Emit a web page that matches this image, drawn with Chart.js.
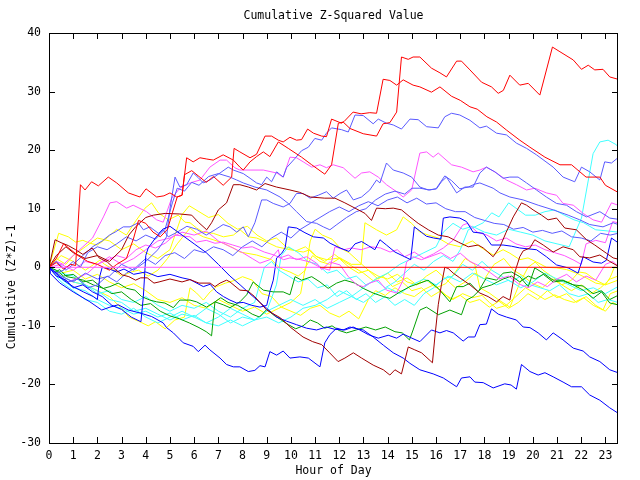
<!DOCTYPE html>
<html>
<head>
<meta charset="utf-8">
<script src="https://cdn.jsdelivr.net/npm/chart.js@4.4.1/dist/chart.umd.min.js"></script>
<style>
html, body { margin: 0; padding: 0; background: #fff; }
canvas { display: block; }
</style>
</head>
<body>
<canvas id="chart" width="640" height="480"></canvas>
<script>
// tick labels
const hourTicks = [0,1,2,3,4,5,6,7,8,9,10,11,12,13,14,15,16,17,18,19,20,21,22,23];
const valueTicks = [-30,-20,-10,0,10,20,30,40];

// series: [hour, cumulative value]
const zeroMagenta = [[0,0],[11.2,0]];
const zeroRed = [[11.2,0],[23.52,0]];

const red1 = [[0,0],[0.3,0.8],[0.6,-0.3],[0.9,0.5],[1.1,0.3],[1.3,14.1],[1.49,13.2],[1.76,14.6],[2.04,13.9],[2.45,15.4],[2.8,14.4],[3.28,12.7],[3.76,12.0],[4.01,13.4],[4.45,12.0],[4.75,12.2],[5.0,12.7],[5.28,12.0],[5.5,12.3],[5.69,18.7],[5.96,18.0],[6.24,18.7],[6.5,18.5],[6.79,18.3],[7.2,19.2],[7.62,18.3],[7.89,17.1],[8.03,16.6],[8.31,18.0],[8.58,18.9],[8.86,19.7],[9.13,18.9],[9.48,21.4],[9.89,20.3],[10.44,18.8],[10.86,17.5],[11.4,15.9],[11.68,17.5],[11.96,24.6],[12.16,24.8],[12.44,23.7],[12.99,22.8],[13.54,22.4],[13.81,24.5],[14.09,24.7],[14.37,26.5],[14.57,35.9],[14.85,35.5],[15.05,35.9],[15.33,35.9],[15.81,34.0],[16.16,33.2],[16.43,32.5],[16.85,35.2],[17.05,35.2],[17.4,33.7],[17.88,31.6],[18.29,30.8],[18.57,29.7],[18.78,30.2],[19.05,32.8],[19.46,31.1],[19.81,31.4],[20.29,29.4],[20.81,37.6],[21.12,36.8],[21.67,35.4],[22.01,33.8],[22.29,34.5],[22.56,33.7],[22.9,33.8],[23.18,32.5],[23.52,32.1]];
const red2 = [[0,0],[0.3,1.5],[0.6,4],[0.9,3],[1.2,2],[1.6,1],[2,0.5],[2.5,-0.5],[2.8,0.5],[3.2,1.5],[3.5,5],[3.7,8],[4.0,7.5],[4.3,6],[4.6,5.2],[4.9,6.5],[5.1,9.3],[5.3,12],[5.5,12.3],[5.6,15.8],[5.9,16.5],[6.2,15.5],[6.5,14.5],[6.8,15.5],[7.2,14],[7.55,15.4],[7.65,20.3],[7.89,19.7],[8.31,18.7],[8.58,19.3],[8.93,22.4],[9.2,22.4],[9.48,21.7],[9.68,21.4],[9.96,22.2],[10.23,21.7],[10.44,21.8],[10.69,23.6],[10.93,22.9],[11.27,22.4],[11.47,22.3],[11.68,25.3],[12.09,24.6],[12.2,24.9],[12.57,26.5],[12.9,26.2],[13.26,26.4],[13.54,26.3],[13.81,32.1],[14.09,31.9],[14.37,31.1],[14.64,32.0],[15.05,31.1],[15.33,30.8],[15.81,29.9],[16.16,30.8],[16.64,29.2],[17.0,28.5],[17.4,27.4],[17.7,27.0],[18.1,25.7],[18.5,24.8],[18.92,23.4],[19.46,21.7],[19.88,20.5],[20.5,18.8],[21.12,17.5],[21.6,17.5],[22.2,15.4],[22.77,15.4],[23.0,14.0],[23.52,12.8]];
const darkRed1 = [[0,0],[0.25,4.7],[0.5,4.2],[0.8,3.7],[1.1,3.0],[1.4,2.2],[1.79,3.3],[2.07,1.6],[2.41,0.9],[2.75,-0.4],[3.03,-1.3],[3.3,-1.6],[3.58,-2.2],[3.79,-1.8],[4.06,-1.8],[4.34,-2.7],[4.55,-2.5],[5.0,-2.0],[5.5,-2.5],[5.83,-2.1],[6.2,-2.7],[6.66,-2.7],[6.86,-3.3],[7.07,-2.7],[7.34,-2.2],[7.48,-2.5],[7.89,-3.9],[8.2,-4.0],[8.5,-5.0],[9.0,-7.3],[9.55,-8.6],[10.0,-10.3],[10.5,-11.9],[10.9,-12.7],[11.27,-13.2],[11.6,-14.6],[11.95,-16.1],[12.23,-15.5],[12.58,-14.6],[12.92,-15.5],[13.4,-16.7],[13.82,-17.5],[14.09,-18.4],[14.3,-17.5],[14.57,-18.2],[14.85,-13.6],[15.12,-14.1],[15.4,-14.6],[15.85,-16.3],[15.95,-11.9],[16.09,-6.4],[16.22,-3.0],[16.36,0],[16.5,-0.2],[16.71,-1.0],[16.98,-1.8],[17.4,-3.0],[17.81,-4.4],[18.15,-5.0],[18.5,-5.9],[18.77,-5.0],[19.05,-5.6],[19.26,-0.8],[19.46,1.8],[19.6,2.8],[19.88,3.3],[20.08,4.7],[20.43,3.8],[20.84,2.6],[21.25,3.5],[21.67,3.0],[21.94,1.8],[22.35,1.6],[22.77,2.1],[23.18,1.0],[23.52,0.2]];
const darkRed2 = [[0,0],[0.3,2],[0.7,3.5],[1,2.5],[1.5,1.5],[2,2],[2.5,1],[3,3],[3.3,5.5],[3.6,7],[4,8.5],[4.31,8.9],[4.8,9.2],[5.41,9.1],[5.9,8.9],[6.17,7.7],[6.52,6.4],[6.72,7.6],[7.0,9.8],[7.34,11],[7.62,14.1],[7.89,14.1],[8.24,13.7],[8.58,13.2],[8.93,14.3],[9.4,13.7],[9.96,13.2],[10.36,12.8],[10.8,12.0],[11.4,11.8],[11.82,11.8],[12.23,11.0],[12.65,10.1],[13.06,9.2],[13.33,8.0],[13.54,10.1],[13.9,10.0],[14.23,10.1],[14.57,9.8],[14.92,8.6],[15.26,7.5],[15.68,6.4],[16.09,5.5],[16.5,5.2],[16.92,4.3],[17.33,3.5],[17.74,3.8],[17.95,3.3],[18.36,1.8],[18.64,3.5],[18.9,6.0],[19.19,8.6],[19.53,11.0],[19.74,10.6],[20.01,9.8],[20.36,8.9],[20.63,8.1],[20.98,8.4],[21.32,6.7],[21.8,6.4],[22.22,4.7],[22.56,3.8],[23.04,2.4],[23.32,1.6],[23.52,1.4]];
const blue1 = [[0,0],[0.04,-1],[0.45,-2.7],[1.0,-4.2],[1.69,-5.9],[2.18,-7.3],[2.52,-6.8],[2.86,-6.4],[3.28,-7.3],[3.76,-7.8],[4.24,-8.4],[4.72,-9.5],[4.86,-10.3],[5.14,-11.2],[5.55,-12.9],[5.96,-13.5],[6.17,-14.4],[6.45,-13.3],[6.65,-14.1],[7.07,-15.5],[7.34,-16.6],[7.62,-17.0],[7.89,-17.0],[8.24,-17.8],[8.51,-17.6],[8.72,-16.8],[8.93,-17.0],[9.13,-14.4],[9.41,-15.0],[9.68,-14.3],[9.96,-15.5],[10.37,-15.3],[10.72,-15.5],[11.2,-17.0],[11.4,-12.9],[11.61,-11.5],[11.89,-10.4],[12.16,-10.7],[12.44,-10.2],[12.72,-10.5],[12.99,-10.7],[13.4,-11.9],[13.82,-13.3],[14.23,-14.6],[14.64,-15.5],[14.92,-16.4],[15.33,-17.5],[15.88,-18.2],[16.3,-18.9],[16.85,-20.4],[17.05,-18.9],[17.4,-18.7],[17.6,-19.6],[17.95,-19.7],[18.36,-20.6],[18.84,-19.9],[19.1,-20.1],[19.32,-20.8],[19.53,-16.6],[19.88,-17.8],[20.22,-18.4],[20.5,-18.0],[20.84,-18.7],[21.25,-19.6],[21.6,-20.4],[22.01,-20.4],[22.35,-21.8],[22.77,-22.7],[23.18,-24.0],[23.52,-24.9]];
const blue2 = [[0,0],[0.3,-1.5],[0.7,-2.2],[1,-3.5],[1.4,-3],[1.8,-4.2],[2.2,-5],[2.6,-6.5],[3,-7.2],[3.4,-8.5],[3.8,-9.3],[3.9,-5],[4.0,2],[4.1,3.3],[4.4,5],[4.7,6.5],[5.0,7],[5.5,5.5],[6,4],[6.5,2.5],[7,0.5],[7.48,-1.5],[7.9,-3],[8.3,-4.5],[8.72,-6],[9.0,-7],[9.41,-8.5],[9.82,-9.2],[10.23,-9.8],[10.65,-10.4],[11.06,-10.7],[11.47,-10.2],[11.82,-10.6],[12.23,-10.7],[12.57,-10.2],[12.85,-10.7],[13.2,-11.5],[13.61,-12.1],[14.02,-11.6],[14.37,-12.1],[14.64,-11.4],[15.0,-12.1],[15.33,-12.7],[15.81,-10.7],[16.16,-11.2],[16.43,-10.8],[16.71,-11.2],[17.12,-12.6],[17.33,-11.9],[17.6,-11.9],[17.81,-9.8],[18.08,-9.7],[18.29,-7.1],[18.57,-8.0],[18.91,-8.5],[19.32,-9.0],[19.6,-10.2],[19.88,-10.3],[20.22,-11.2],[20.56,-12.4],[20.84,-11.2],[21.25,-12.4],[21.67,-13.8],[22.08,-14.3],[22.35,-15.3],[22.77,-16.1],[23.18,-17.5],[23.52,-18.0]];
const blue3 = [[0,0],[0.3,-1],[0.6,-2.2],[1,-3.3],[1.42,-4.2],[1.83,-5],[2.0,-5.5],[2.1,-1.5],[2.2,0],[2.5,-0.3],[2.8,-0.8],[3.1,-0.3],[3.5,-1.2],[4,-0.8],[4.5,-1.6],[5,-1.2],[5.5,-1.8],[5.83,-2.1],[6.38,-3.3],[6.66,-2.9],[6.93,-4.2],[7.21,-5],[7.48,-5.6],[7.76,-6.1],[8.03,-6.0],[8.38,-6.5],[8.72,-6.8],[9.0,-6.5],[9.14,-4],[9.27,-2.2],[9.41,1.6],[9.62,2.4],[9.76,3.3],[9.89,6.9],[10.24,6.7],[10.58,5.9],[10.93,5.2],[11.34,5.0],[11.62,4.1],[12.03,3.3],[12.4,2.7],[12.65,4.0],[12.92,4.4],[13.2,3.7],[13.47,3.0],[13.68,4.7],[13.95,3.8],[14.3,2.6],[14.7,1.8],[14.95,1.3],[15.1,6.9],[15.33,6.2],[15.6,5.3],[15.9,5.0],[16.2,4.8],[16.3,8.4],[16.57,8.6],[16.98,8.4],[17.26,7.8],[17.53,6.0],[17.95,5.8],[18.29,3.8],[18.77,3.8],[19.12,3.6],[19.46,3.3],[20.15,3.0],[20.56,1.8],[20.98,0.4],[21.46,-0.1],[21.87,-1.0],[22.08,1.8],[22.49,0.9],[22.84,0.7],[23.04,1.2],[23.25,5.0],[23.52,4.2]];
const lightBlue1 = [[0,0],[0.5,-1.5],[1,-2.5],[1.5,-1],[2,-2],[2.5,-1.5],[3,0.5],[3.5,-0.5],[4,1],[4.5,3],[4.86,5.2],[5.0,10],[5.21,15.4],[5.41,13.7],[5.69,14.1],[5.96,16.1],[6.17,15.3],[6.38,14.4],[6.65,14.9],[7.07,16.1],[7.41,17.1],[7.62,16.6],[7.89,16.2],[8.03,16.0],[8.31,15.2],[8.58,14.4],[8.79,14.1],[9.0,15.4],[9.2,14.6],[9.41,16.3],[9.68,15.4],[9.82,17.0],[10.17,18.6],[10.44,19.9],[10.72,20.5],[10.99,22.0],[11.27,21.7],[11.47,22.9],[11.68,23.8],[12.09,23.5],[12.37,23.1],[12.65,26.0],[12.99,25.9],[13.4,24.5],[13.61,25.3],[13.95,24.6],[14.23,24.3],[14.57,23.6],[14.92,25.3],[15.26,25.2],[15.61,24.0],[16.09,23.8],[16.36,25.7],[16.64,26.3],[16.98,26.0],[17.4,25.1],[17.81,23.8],[18.08,24.1],[18.5,22.9],[18.91,22.6],[19.32,21.2],[19.74,20.3],[20.15,19.2],[20.84,17.1],[21.25,15.4],[21.73,14.6],[22.01,17.1],[22.35,16.3],[22.77,14.9],[22.97,18.0],[23.25,17.8],[23.52,18.7]];
const lightBlue2 = [[0,0],[0.3,1],[0.7,-0.5],[1,0.5],[1.4,2],[1.8,3.5],[2.2,4.5],[2.5,5.5],[2.73,6],[3.07,6.9],[3.35,6.9],[3.69,7.6],[3.9,6.4],[4.17,6.9],[4.52,5.8],[4.72,6.4],[4.93,5.2],[5.3,6],[5.7,7],[6.1,6.5],[6.5,5.5],[6.9,6.5],[7.2,7.3],[7.48,6.9],[7.76,6.0],[8.03,6.9],[8.24,5.2],[8.51,7.6],[8.79,11.5],[9.0,11.5],[9.27,10.9],[9.68,10.3],[9.96,10.9],[10.23,12.6],[10.51,12.6],[10.79,11.8],[11.13,12.3],[11.47,12.9],[11.75,11.8],[12.03,12.6],[12.3,13.2],[12.58,11.5],[12.92,12.0],[13.26,13.2],[13.54,14.9],[13.68,14.4],[13.95,17.8],[14.23,16.6],[14.64,16.1],[14.99,15.4],[15.33,13.7],[15.67,13.2],[16.02,13.4],[16.22,14.6],[16.43,15.4],[16.85,12.7],[17.19,13.7],[17.53,13.7],[17.81,16.1],[18.08,17.1],[18.43,16.3],[18.77,15.2],[19.05,15.4],[19.39,15.4],[19.74,14.4],[20.15,13.2],[20.56,12.0],[20.98,10.9],[21.39,10.6],[21.8,9.5],[22.22,8.6],[22.77,9.5],[23.18,8.4],[23.52,8.2]];
const lightBlue3 = [[0,0],[0.3,-1],[0.6,-0.5],[1,1],[1.3,0],[1.6,2.5],[2,3.5],[2.4,3],[2.8,4],[3.2,5.2],[3.6,4.5],[4,5.5],[4.4,4.8],[4.8,6.5],[5.1,11],[5.3,13.5],[5.6,13],[5.9,14.5],[6.2,14],[6.6,15.5],[7,16],[7.48,15.4],[7.76,14.9],[8.03,14.4],[8.51,13.7],[9.0,13.2],[9.55,12.0],[9.89,10.9],[10.23,9.5],[10.65,7.8],[11.06,7.5],[11.34,6.9],[11.61,6.4],[11.9,7.3],[12.3,8.5],[12.7,9.5],[13.1,10.0],[13.5,11.5],[13.9,12.5],[14.3,13.0],[14.7,12.5],[15.0,13.5],[15.33,13.5],[15.74,13.2],[16.0,13.4],[16.36,15.6],[16.64,14.8],[16.98,13.4],[17.33,13.7],[17.6,14.2],[17.81,14.4],[18.36,13.5],[18.64,12.7],[19.05,12.0],[19.6,11.5],[20.22,10.6],[20.84,9.8],[21.46,8.9],[21.94,8.1],[22.35,7.3],[22.9,6.9],[23.32,7.6],[23.52,7.3]];
const lightBlue4 = [[0,0],[0.4,-1.5],[0.8,-2.5],[1.2,-2],[1.6,-3.5],[2,-3],[2.4,-1.5],[2.8,-2.5],[3.2,-1],[3.6,0],[4,1.5],[4.4,0.5],[4.8,2],[5.2,2.5],[5.6,1.5],[6,3],[6.4,2.5],[6.8,3.5],[7.2,3],[7.6,2],[8,3.5],[8.4,4.5],[8.8,3.5],[9.2,5],[9.6,6],[10,5],[10.4,6.5],[10.8,7.5],[11.2,8.5],[11.6,9.5],[12,10.3],[12.4,9.5],[12.8,10.5],[13.2,11.2],[13.6,10.5],[14,11.5],[14.4,12],[14.8,11],[15.2,11.8],[15.6,10.8],[16,11],[16.4,10],[16.8,9.5],[17.2,9.5],[17.6,8.5],[18,8],[18.4,7.5],[18.8,7.3],[19.2,6.5],[19.6,6.8],[20,6],[20.4,6.3],[20.8,5.8],[21.2,6.2],[21.6,5.2],[22,5],[22.4,4.5],[22.8,5.8],[23.2,5.5],[23.52,5.8]];
const magenta1 = [[0,0],[0.3,1],[0.6,0.5],[1,2],[1.4,3.5],[1.8,5],[2.25,8.6],[2.52,11],[2.8,11.2],[3.21,10.1],[3.48,10.6],[4.03,9.5],[4.45,8.1],[4.72,7.7],[4.86,9.3],[5.07,11.8],[5.41,13.5],[5.83,14.4],[6.24,14.9],[6.65,17.1],[7.07,18.3],[7.34,18.3],[7.68,17.0],[7.89,16.6],[8.31,16.6],[8.86,16.6],[9.41,16.1],[9.68,15.4],[9.96,18.8],[10.23,18.7],[10.51,18.0],[10.86,17.1],[11.2,17.5],[11.47,17.0],[11.75,17.5],[12.16,17.0],[12.65,15.2],[12.92,16.1],[13.26,16.3],[13.61,15.4],[13.95,14.1],[14.37,12.9],[14.64,12.0],[14.99,13.2],[15.33,19.5],[15.61,19.7],[15.88,18.8],[16.09,19.5],[16.64,17.5],[17.05,17.1],[17.53,16.3],[17.81,16.6],[18.08,17.1],[18.5,16.1],[18.91,14.9],[19.32,14.1],[19.74,13.2],[20.08,13.5],[20.56,12.7],[20.98,12.3],[21.25,10.9],[21.67,10.6],[22.08,9.2],[22.49,8.1],[22.84,7.7],[23.25,11.0],[23.52,10.6]];
const magenta2 = [[0,0],[0.4,-1.5],[0.8,-2.5],[1.2,-1.8],[1.6,-1],[2,0.5],[2.4,1.2],[2.8,2],[3.2,1.5],[3.6,3],[4,3.8],[4.4,3.3],[4.8,4.1],[5.2,5.5],[5.83,5.2],[6.1,4.3],[6.5,4.6],[6.86,4.1],[7.2,4.3],[7.6,3.8],[8.0,3.3],[8.4,3.5],[8.9,2.6],[9.3,2.1],[9.7,1.3],[9.96,1.6],[10.4,1.3],[10.8,0.9],[11.2,0],[11.6,-0.5],[11.82,3.5],[12.2,3.0],[12.5,3.3],[12.9,3.0],[13.3,3.5],[13.7,3.3],[14.1,2.6],[14.4,3.0],[14.7,1.8],[15.1,2.6],[15.5,1.5],[15.9,2.3],[16.3,3.3],[16.7,4.6],[17.1,7.2],[17.3,7.5],[17.7,6.0],[18.1,5.5],[18.5,4.5],[18.9,5.0],[19.3,4.0],[19.7,3.5],[20.1,3.8],[20.5,3.0],[20.9,2.5],[21.3,2.0],[21.7,1.2],[22.0,0.5],[22.2,4.0],[22.6,4.6],[23.0,4.2],[23.3,7.8],[23.52,7.6]];
const magenta3 = [[0,0],[0.5,0.5],[1,-0.5],[1.5,1],[2,0.5],[2.5,1.8],[3,0.5],[3.5,1.5],[4,3],[4.5,4.5],[5,5],[5.5,6],[6,5.5],[6.5,6.2],[7,4.5],[7.5,3.5],[8,2.5],[8.4,1.5],[8.72,0.7],[9.13,1.3],[9.48,3.0],[9.55,1.6],[9.89,2.1],[10.23,1.3],[10.65,1.8],[11.06,0.7],[11.27,-0.4],[11.61,0.9],[12.03,0.4],[12.37,-1.6],[12.72,-3.0],[12.99,-3.3],[13.26,-2.7],[13.61,-2.2],[13.95,-3.9],[14.37,-4.4],[14.64,-2.2],[14.78,0.9],[15.05,1.8],[15.4,1.3],[15.74,1.8],[16.2,2.5],[16.6,1.5],[17,2.4],[17.4,1.0],[17.8,0.2],[18.2,-0.8],[18.6,-2.0],[19,-1.5],[19.4,-2.8],[19.8,-3.5],[20.2,-2.5],[20.6,-3.3],[21.0,-2.0],[21.4,-1.2],[21.8,-2.5],[22.2,-1.5],[22.6,-2.2],[23.0,0.5],[23.3,1.0],[23.52,0.2]];
const cyan1 = [[0,0],[0.5,-2],[1,-3.5],[1.5,-4],[2,-5.5],[2.5,-6.5],[3,-7],[3.5,-8],[4,-7.5],[4.5,-8.5],[5,-7.8],[5.5,-9],[6,-8.2],[6.5,-9.5],[7,-8.5],[7.5,-7],[8,-8],[8.5,-9],[9,-7.5],[9.4,-3],[9.6,2],[9.9,3.5],[10.3,2.5],[10.7,1],[11.1,0.5],[11.5,-1],[11.9,-0.5],[12.3,-2],[12.7,-1.5],[13.1,-3],[13.5,-2.2],[13.9,-3.5],[14.3,-2.5],[14.7,-1],[15.1,0.5],[15.5,-0.5],[15.9,1],[16.3,2],[16.7,1],[17,3],[17.33,6.4],[17.6,6.9],[17.95,7.6],[18.3,9.3],[18.6,8.6],[19.0,11.0],[19.3,10.1],[19.7,8.9],[20.1,8.9],[20.5,9.5],[20.9,9.8],[21.3,8.9],[21.7,8.1],[22.1,7.6],[22.6,6.4],[23.1,6.2],[23.52,6.0]];
const cyan2 = [[0,0],[0.5,-1.5],[1,-2.5],[1.5,-3],[2,-4],[2.5,-5.5],[3,-6],[3.5,-7.5],[4,-7],[4.5,-8],[5,-9],[5.5,-8],[6,-8.5],[6.5,-9.5],[7,-10],[7.5,-9],[8,-10],[8.5,-9],[9,-8.5],[9.5,-9.5],[10,-8.5],[10.5,-7],[11,-6.5],[11.5,-5.5],[12,-4],[12.5,-5],[13,-3.5],[13.5,-2],[14,-1],[14.5,0.5],[15,1.5],[15.5,2.5],[16,3.5],[16.3,6],[16.7,7.5],[17.1,6.5],[17.5,7],[18,6],[18.5,5.5],[19,6.5],[19.5,6],[20,5.5],[20.5,4.5],[21,4],[21.5,3.5],[22.01,8.4],[22.49,19.4],[22.77,21.4],[23.11,21.7],[23.46,20.9],[23.52,20.5]];
const cyan3 = [[0,0],[0.5,-2.5],[1,-4],[1.5,-5.5],[2,-6],[2.5,-7.5],[3,-8],[3.5,-7],[4,-8.5],[4.5,-9.5],[5,-8.5],[5.5,-7.5],[6,-8.5],[6.5,-7],[7,-8],[7.5,-9.5],[8,-8.5],[8.5,-9],[9,-7.5],[9.5,-6.5],[10,-5.5],[10.5,-6.5],[11,-5.5],[11.5,-7],[12,-6],[12.5,-5],[13,-6],[13.5,-4.5],[14,-3.5],[14.5,-4.5],[15,-3],[15.5,-2],[16,-3],[16.5,-1.5],[17,-2.5],[17.5,-1],[18,-2],[18.5,-3],[19,-2.2],[19.5,-3.5],[20,-2.5],[20.5,-1],[21,-2],[21.5,-3],[22,-4],[22.5,-3.5],[23,-4.5],[23.52,-3.3]];
const cyan4 = [[0,0],[0.5,-1],[1,-1.5],[1.5,-3],[2,-4.5],[2.5,-4],[3,-5.5],[3.5,-6],[4,-5],[4.5,-6.5],[5,-7.5],[5.5,-6.5],[6,-7],[6.5,-6],[7,-7.5],[7.5,-8.5],[8,-7],[8.5,-6],[8.9,0],[9.2,1],[9.5,-0.5],[9.9,-1.5],[10.3,-2.5],[10.7,-2],[11.1,-3.5],[11.5,-3],[11.9,-5],[12.3,-4],[12.7,-5.5],[13.1,-4.5],[13.5,-6],[13.9,-5],[14.3,-6.5],[14.7,-5.5],[15.1,-6.5],[15.5,-4.5],[15.9,-3.5],[16.3,-2],[16.7,-1.5],[17.1,0.5],[17.5,-0.5],[17.9,1],[18.3,-0.5],[18.7,-1.5],[19.1,-2.5],[19.5,-1.5],[19.9,-3],[20.3,-3.5],[20.7,-4],[21.1,-3],[21.5,-4.5],[21.9,-5],[22.3,-4.5],[22.7,-6],[23.1,-5.5],[23.52,-6]];
const yellow1 = [[0,0],[0.4,5.8],[0.8,5.2],[1.1,4.3],[1.4,4.6],[1.7,4.1],[2.0,3.8],[2.4,5],[2.8,6.5],[3.2,5.5],[3.6,8],[3.97,10.1],[4.24,11],[4.52,9.3],[4.93,8.1],[5.34,8.9],[5.62,7.7],[5.83,7.6],[6.1,6.7],[6.38,6],[6.79,5.8],[7.21,5.2],[7.62,5.5],[7.9,6.4],[8.24,5.2],[8.58,5],[9,4.3],[9.41,3.5],[9.96,3],[10.51,2.6],[10.79,3],[11.06,1.8],[11.48,1.3],[12.03,1.6],[12.5,0.5],[12.9,0.5],[13.06,7.6],[13.54,6.4],[13.95,5.5],[14.37,6.4],[14.64,8.6],[14.99,7.5],[15.33,6],[15.68,5.5],[16.09,5],[16.5,4],[17,3.5],[17.5,4.5],[17.81,3.5],[18.36,2.1],[18.77,3],[19.05,2.4],[19.46,1.3],[19.8,1.6],[20.15,0.9],[20.56,0],[20.98,-0.1],[21.4,-0.4],[21.8,-1],[22.2,-1.8],[22.6,-2.7],[23,-3],[23.52,-2.2]];
const yellow2 = [[0,0],[0.5,2],[1,1],[1.5,-0.5],[2.1,1.2],[2.3,0.5],[2.59,-0.2],[3,-1.5],[3.4,-0.8],[3.7,-0.5],[4.1,-1.5],[4.5,-0.5],[4.9,1.5],[5.3,4],[5.83,6.7],[6.1,5.8],[6.38,5.2],[6.79,4.7],[7.21,4.1],[7.62,3.3],[7.9,2.6],[8.58,2.1],[9.2,1.3],[9.5,0],[9.76,-0.5],[9.96,-0.8],[10.3,-1.5],[10.6,-0.5],[10.8,4.5],[11.0,6.5],[11.3,5.5],[11.7,4.8],[12.03,3.3],[12.4,2.5],[12.8,1],[13.2,-0.5],[13.6,-1.5],[14,-2],[14.4,-1.2],[14.8,-2.5],[15.2,-3],[15.6,-2.2],[16,-3.5],[16.4,-2.8],[16.8,-0.8],[17.2,1.5],[17.6,0.5],[17.81,-3.5],[18.2,-4.4],[18.6,-5.6],[19.05,-6.8],[19.46,-2.7],[19.8,0],[20.1,0.9],[20.42,-0.5],[20.8,-1.6],[21.2,-3],[21.6,-2.2],[21.9,-0.8],[22.2,-1],[22.6,-2.2],[23,-3],[23.2,-1.7],[23.37,0],[23.52,-0.2]];
const yellow3 = [[0,0],[0.5,-1.5],[1,-2.5],[1.5,-3],[2,-4],[2.5,-5],[3,-7],[3.3,-8.5],[3.7,-9.2],[4.1,-10],[4.4,-9.3],[4.8,-10.5],[5.2,-9],[5.6,-8.5],[5.83,-3.5],[6.1,-4.4],[6.38,-5.6],[6.66,-4.2],[6.93,-3.3],[7.3,-2.7],[7.7,-2.2],[8.0,-1.6],[8.4,-2.2],[8.8,-4.5],[9.2,-5],[9.6,-6.8],[10,-7.5],[10.4,-8.2],[10.8,-7],[11.2,-6.5],[11.6,-7.8],[12,-8.5],[12.4,-7.5],[12.8,-8.8],[13.2,-5.5],[13.5,-4],[13.9,-4.8],[14.3,-3.5],[14.7,-4.5],[15.1,-5],[15.5,-3.8],[15.9,-3],[16.3,-4.5],[16.7,-5.5],[17.1,-4.5],[17.5,-5.2],[17.9,-4.8],[18.2,-6],[18.5,-7],[18.9,-6.5],[19.3,-5],[19.7,-3.5],[20.1,-4.5],[20.5,-5.5],[20.9,-4.7],[21.3,-5.5],[21.7,-6],[22.1,-5.2],[22.5,-6.5],[22.9,-7.3],[23.2,-4.5],[23.52,-4]];
const yellow4 = [[0,0],[0.3,1.5],[0.7,0.5],[1,2],[1.5,3.5],[2,5],[2.5,4.5],[3,3],[3.5,4],[4,2.5],[4.5,1.5],[5,3],[5.5,9],[5.8,10.5],[6.2,9.5],[6.6,8.5],[7,9],[7.4,7.5],[7.8,6.5],[8.2,7],[8.6,5.5],[9,4.5],[9.4,5],[9.8,3.5],[10.2,2.8],[10.6,3.5],[11,2],[11.4,1],[11.8,2.2],[12.2,1],[12.6,0],[13,-1],[13.4,-2.3],[13.8,-1.5],[14.2,-3.3],[14.6,-2.5],[15,-4],[15.4,-3.5],[15.8,-5],[16.2,-4],[16.6,-5.5],[17,-4.8],[17.4,-6],[17.8,-5.5],[18.2,-6.8],[18.6,-5.8],[19,-7],[19.4,-6],[19.8,-4.5],[20.2,-5.5],[20.6,-4],[21,-5.2],[21.4,-4.5],[21.8,-6],[22.2,-5],[22.6,-6.5],[23,-7.5],[23.3,-6],[23.52,-6.5]];
const yellow5 = [[0,0],[0.5,-1],[1,-0.5],[1.5,-2],[2,-1.2],[2.5,-2.5],[3,-3.5],[3.5,-2.8],[4,-4],[4.5,-5.5],[5,-6],[5.5,-5.2],[6,-6.5],[6.5,-7],[7,-5.5],[7.5,-6.5],[8,-7.5],[8.5,-6.8],[9,-8],[9.5,-7],[10,-6],[10.4,-4.5],[10.6,0],[10.9,2],[11.2,1],[11.6,0.5],[12,1.5],[12.4,0],[12.8,-1],[13.2,-0.5],[13.6,-2],[14,-1],[14.4,-2.5],[14.8,-1.8],[15.2,-3],[15.6,-1.5],[16,-0.5],[16.4,-2],[16.8,-3.5],[17.2,-2.5],[17.6,-1],[18,-2],[18.4,0.5],[18.8,1.5],[19.2,-0.5],[19.6,-1.5],[20,-2.8],[20.4,-3.5],[20.8,-2],[21.2,-3],[21.6,-4],[22,-3],[22.4,-4.5],[22.8,-3.5],[23.2,-2],[23.52,-1.5]];
const green1 = [[0,0],[0.25,-0.8],[0.45,-0.4],[0.73,-1.6],[1.0,-1.8],[1.42,-2.2],[1.83,-3],[2.25,-3.6],[2.52,-3.3],[2.86,-2.7],[3.21,-3.6],[3.55,-3.9],[3.83,-5],[4.17,-5.6],[4.45,-5.9],[4.79,-6.1],[5.14,-6.9],[5.41,-5.6],[5.83,-5.6],[6.1,-5.9],[6.51,-6.8],[6.86,-5.9],[7.2,-6.4],[7.48,-6.9],[7.89,-5.9],[8.17,-4.7],[8.44,-2.5],[8.86,-3.9],[9.27,-4.2],[9.68,-4.2],[9.96,-4.7],[10.17,-1.6],[10.44,-2.2],[10.86,-1.6],[11.2,-2.5],[11.54,-3.6],[11.89,-2.7],[12.23,-2.2],[12.65,-2.7],[12.99,-3.6],[13.4,-4.4],[13.82,-5],[14.09,-5.3],[14.51,-4.2],[14.92,-3.3],[15.33,-2.7],[15.67,-2.2],[16.09,-3.6],[16.57,-5.9],[16.85,-3.3],[17.12,-3.3],[17.4,-2.7],[17.74,-4.2],[18.08,-1.8],[18.5,-2.2],[18.77,-1.0],[19.12,-0.8],[19.46,-1.6],[19.81,-3.3],[20.08,-0.1],[20.43,-1.0],[20.84,-2.2],[21.25,-2.2],[21.67,-3.0],[22.08,-3.9],[22.49,-5.3],[22.84,-4.2],[23.18,-6.1],[23.52,-6.4]];
const green2 = [[0,0],[0.3,-0.5],[0.6,-1.5],[1,-1.2],[1.4,-2.5],[1.8,-2.2],[2.2,-3.5],[2.6,-4.5],[3,-4.2],[3.4,-5.5],[3.8,-6.5],[4.2,-6.2],[4.6,-7.5],[5,-8.3],[5.4,-8.8],[5.8,-9.5],[6.2,-10.3],[6.5,-11],[6.72,-11.7],[6.86,-5.9],[7.1,-5.2],[7.4,-6.0],[7.8,-6.5],[8.1,-7.2],[8.4,-8],[8.7,-8.5],[9.0,-7.2],[9.3,-8.2],[9.6,-9],[9.9,-9.8],[10.2,-10.5],[10.5,-10],[10.8,-9],[11.1,-9.5],[11.4,-10.4],[11.7,-10],[12.0,-10.8],[12.3,-11.2],[12.7,-10.7],[13.1,-10.2],[13.5,-10.7],[13.9,-10.2],[14.3,-11],[14.6,-11.2],[14.9,-12.4],[15.05,-10.7],[15.33,-7.3],[15.6,-6.8],[16.09,-8.1],[16.57,-7.3],[17.05,-8.1],[17.26,-5.6],[17.53,-5],[17.9,-3.5],[18.3,-3],[18.77,-2],[19.12,-1.5],[19.46,-2.5],[19.81,-1.5],[20.1,-2],[20.43,-1.2],[20.84,-2.5],[21.25,-2.3],[21.67,-3],[22.08,-3.2],[22.49,-4.5],[22.84,-4],[23.18,-5.5],[23.52,-4.8]];

const RED = '#ff0000', DARK_RED = '#a00000', BLUE = '#0000ff', LIGHT_BLUE = '#5a5aff',
      MAGENTA = '#ff55ff', CYAN = '#40ffff', YELLOW = '#ffff00', GREEN = '#00a000';

const series = [
    [zeroRed, RED], [zeroMagenta, MAGENTA],
    [red1, RED], [red2, RED], [darkRed1, DARK_RED], [darkRed2, DARK_RED],
    [blue1, BLUE], [blue2, BLUE], [blue3, BLUE],
    [lightBlue1, LIGHT_BLUE], [lightBlue2, LIGHT_BLUE], [lightBlue3, LIGHT_BLUE], [lightBlue4, LIGHT_BLUE],
    [magenta1, MAGENTA], [magenta2, MAGENTA], [magenta3, MAGENTA],
    [green1, GREEN], [green2, GREEN],
    [cyan1, CYAN], [cyan2, CYAN], [cyan3, CYAN], [cyan4, CYAN],
    [yellow1, YELLOW], [yellow2, YELLOW], [yellow3, YELLOW], [yellow4, YELLOW], [yellow5, YELLOW]
];

const FONT = '"DejaVu Sans Mono", "Liberation Mono", monospace';
Chart.defaults.font.family = FONT;
Chart.defaults.font.size = 11.5;
Chart.defaults.color = '#000';

// gnuplot style frame: border, inward ticks on all sides, title and axis labels
const framePlugin = {
    id: 'frame',
    afterDraw(chart) {
        const { ctx, chartArea: a, scales: { x, y } } = chart;
        ctx.save();
        ctx.strokeStyle = '#000';
        ctx.lineWidth = 1;
        ctx.beginPath();
        x.ticks.forEach(t => {
            const px = Math.round(x.getPixelForValue(t.value)) + 0.5;
            ctx.moveTo(px, a.bottom); ctx.lineTo(px, a.bottom - 6);
            ctx.moveTo(px, a.top); ctx.lineTo(px, a.top + 6);
        });
        y.ticks.forEach(t => {
            const py = Math.round(y.getPixelForValue(t.value)) + 0.5;
            ctx.moveTo(a.left, py); ctx.lineTo(a.left + 6, py);
            ctx.moveTo(a.right, py); ctx.lineTo(a.right - 6, py);
        });
        ctx.stroke();
        ctx.strokeRect(a.left + 0.5, a.top + 0.5, a.right - a.left - 1, a.bottom - a.top);

        ctx.fillStyle = '#000';
        ctx.font = '11.5px ' + FONT;
        ctx.textAlign = 'center';
        ctx.textBaseline = 'middle';
        const cx = (a.left + a.right) / 2;
        ctx.fillText('Cumulative Z-Squared Value', cx, 16);
        ctx.fillText('Hour of Day', cx, 471);
        ctx.translate(12, 287);
        ctx.rotate(-Math.PI / 2);
        ctx.fillText('Cumulative (Z*Z)-1', 0, 0);
        ctx.restore();
    }
};

new Chart(document.getElementById('chart'), {
    type: 'line',
    data: {
        datasets: series.map(([data, color]) => ({
            data,
            borderColor: color,
            backgroundColor: color,
            borderWidth: 1,
            pointRadius: 0,
            tension: 0,
            fill: false
        }))
    },
    options: {
        responsive: false,
        animation: false,
        events: [],
        layout: { padding: { top: 33, right: 22, left: 0, bottom: 0 } },
        plugins: { legend: { display: false }, tooltip: { enabled: false }, title: { display: false } },
        scales: {
            x: {
                type: 'linear',
                min: 0,
                max: 23.52,
                afterBuildTicks: s => { s.ticks = hourTicks.map(v => ({ value: v })); },
                afterFit: s => { s.height = 37; },
                grid: { display: false, drawTicks: false },
                border: { display: false },
                ticks: { padding: 6, maxRotation: 0, autoSkip: false, callback: v => String(v) }
            },
            y: {
                min: -30,
                max: 40,
                afterBuildTicks: s => { s.ticks = valueTicks.map(v => ({ value: v })); },
                afterFit: s => { s.width = 49; },
                grid: { display: false, drawTicks: false },
                border: { display: false },
                ticks: { padding: 8, callback: v => String(v) }
            }
        }
    },
    plugins: [framePlugin]
});
</script>
</body>
</html>
